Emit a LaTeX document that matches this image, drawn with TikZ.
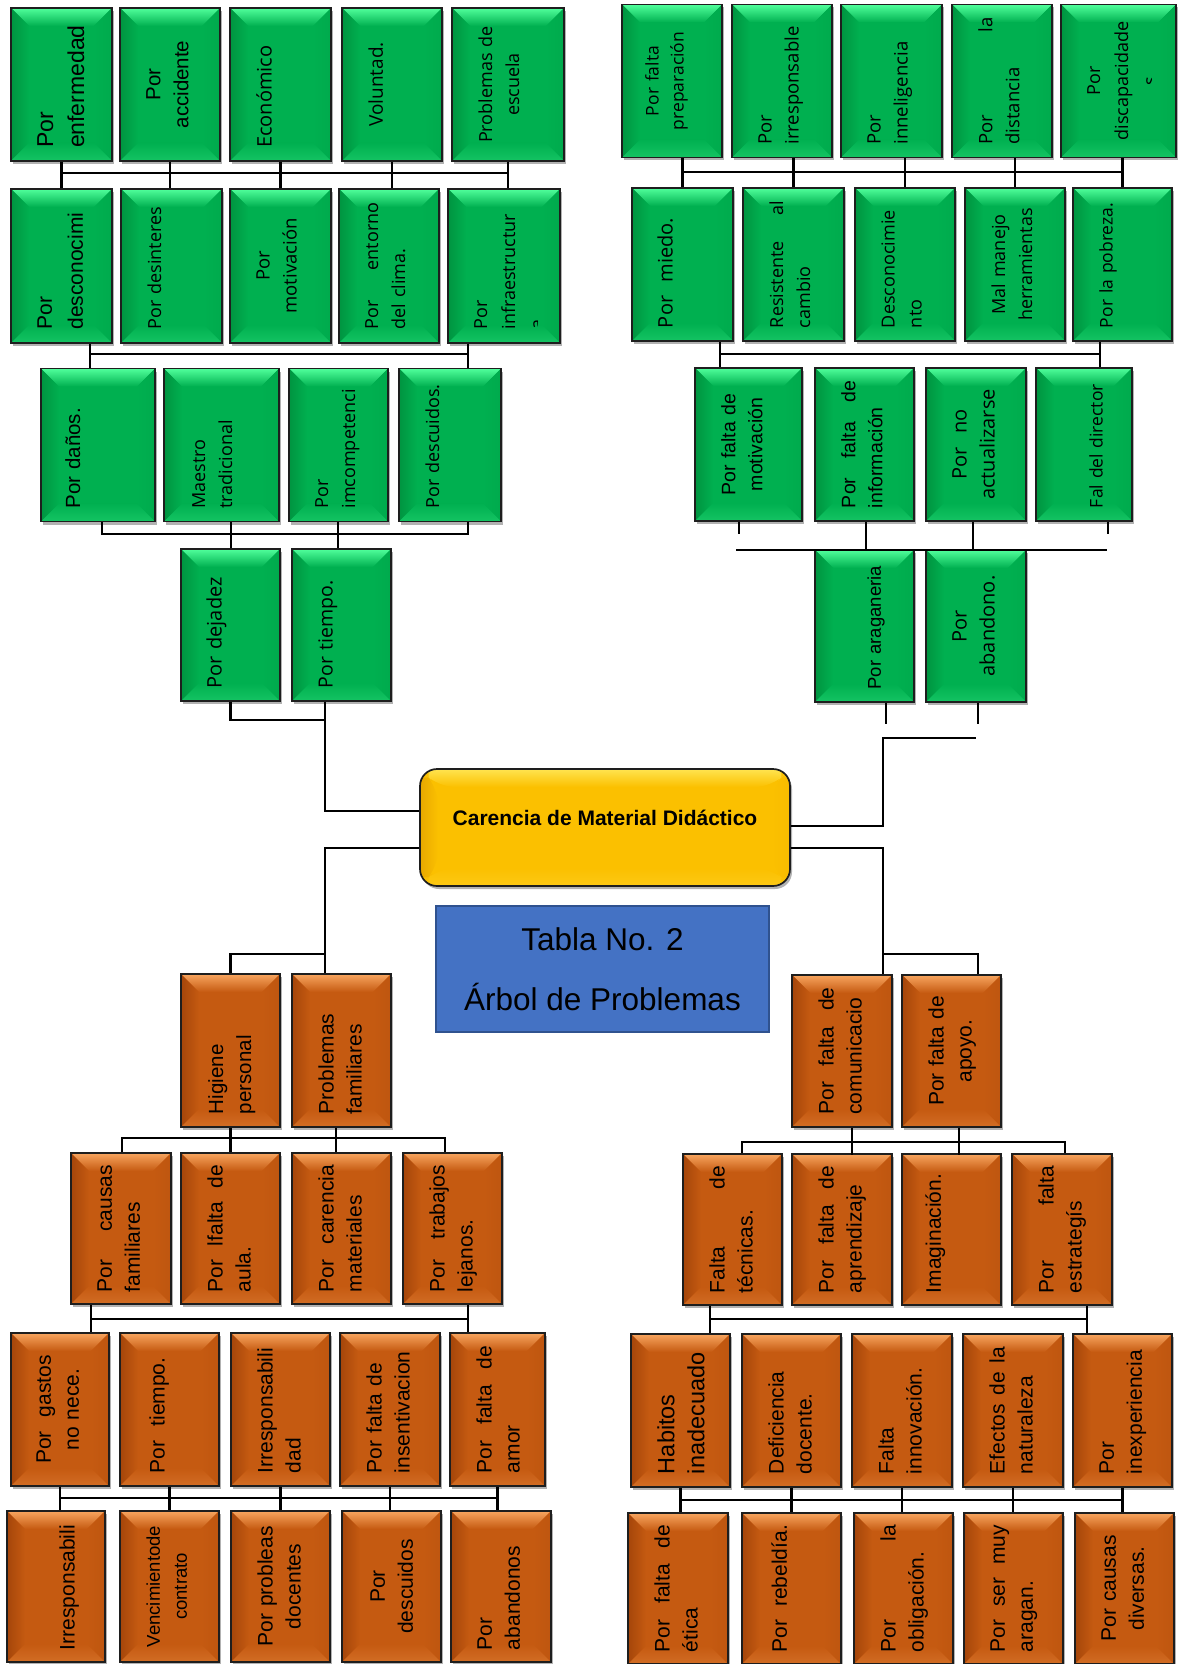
\documentclass[tikz,border=0pt]{standalone}
\usepackage{fontspec}
\setmainfont{Liberation Sans}
\newfontfamily\humfont{Open Sans}
\usetikzlibrary{shadows}
\hyphenpenalty=10000
\exhyphenpenalty=10000

\definecolor{verde}{RGB}{0,176,80}
\definecolor{verdeclaro}{RGB}{80,255,155}
\definecolor{verdeosc}{RGB}{0,148,64}
\definecolor{naranja}{RGB}{197,90,17}
\definecolor{naranjaclaro}{RGB}{248,165,95}
\definecolor{naranjaosc}{RGB}{165,70,10}
\definecolor{amarillo}{RGB}{251,192,0}
\definecolor{amarilloclaro}{RGB}{255,228,80}
\definecolor{amarilloosc}{RGB}{232,168,0}
\definecolor{azul}{RGB}{68,114,196}
\definecolor{azulosc}{RGB}{47,82,143}
\definecolor{borde}{RGB}{30,30,30}

\tikzset{
  bevel/.style n args={3}{path picture={
      \coordinate (pnw) at (path picture bounding box.north west);
      \coordinate (pne) at (path picture bounding box.north east);
      \coordinate (psw) at (path picture bounding box.south west);
      \coordinate (pse) at (path picture bounding box.south east);
      \fill[#1] (psw) rectangle (pne);
      \shade[top color=#2, bottom color=#1] (pnw) -- (pne) -- ([shift={(-18pt,-18pt)}]pne) -- ([shift={(18pt,-18pt)}]pnw) -- cycle;
      \shade[left color=#3, right color=#1] (pnw) -- ([shift={(18pt,-18pt)}]pnw) -- ([shift={(18pt,18pt)}]psw) -- (psw) -- cycle;
      \shade[left color=#1, right color=#1!80!#3] (pne) -- (pse) -- ([shift={(-18pt,18pt)}]pse) -- ([shift={(-18pt,-18pt)}]pne) -- cycle;
      \shade[top color=#1, bottom color=#1!75!#2] (psw) -- ([shift={(18pt,18pt)}]psw) -- ([shift={(-18pt,18pt)}]pse) -- (pse) -- cycle;
  }},
  caja/.style={draw=borde, line width=1.7pt, inner sep=0pt,
    drop shadow={shadow xshift=2pt, shadow yshift=-3pt, opacity=.3, fill=black}},
  gbox/.style={caja, bevel={verde}{verdeclaro}{verdeosc}},
  obox/.style={caja, bevel={naranja}{naranjaclaro}{naranjaosc}},
  root/.style={caja, rounded corners=17pt, minimum width=370pt, minimum height=117pt,
    bevel={amarillo}{amarilloclaro}{amarilloosc}},
  tabla/.style={draw=azulosc, fill=azul, line width=1.5pt, minimum width=333pt,
    minimum height=126pt, align=center, font=\fontsize{31.5}{60}\selectfont},
  rt/.style={rotate=90, anchor=north, inner sep=0pt, text width=127pt, align=left,
    font=\fontsize{21}{28}\selectfont},
  os/.style 2 args={font=\humfont\fontsize{#1}{#2}\selectfont},
  ar/.style 2 args={font=\fontsize{#1}{#2}\selectfont},
  cen/.style={align=center},
  linea/.style={line width=2.3pt, black}
}

\begin{document}
\begin{tikzpicture}[x=1pt, y=-1pt]
\fill[white] (0,0) rectangle (1179,1664);
\useasboundingbox (0,0) rectangle (1179,1664);

% causas verdes, izquierda
\foreach \n/\x/\w in {a1/61.5/101, a2/170/100, a3/280.5/101, a4/392/100, a5/508/112}
  \node[gbox, minimum width=\w pt, minimum height=153pt] (\n) at (\x,84.5) {};
\foreach \n/\x/\w in {b1/61.5/101, b2/171.5/101, b3/280.5/101, b4/389/100, b5/504/112}
  \node[gbox, minimum width=\w pt, minimum height=154pt] (\n) at (\x,266) {};
\foreach \n/\x/\w in {c1/98/114, c2/221.5/115, c3/338.5/99, c4/450/102}
  \node[gbox, minimum width=\w pt, minimum height=153pt] (\n) at (\x,445) {};
\foreach \n/\x/\w in {d1/230.5/99, d2/341.5/99}
  \node[gbox, minimum width=\w pt, minimum height=152pt] (\n) at (\x,625) {};

% causas verdes, derecha
\foreach \n/\x/\w in {e1/672/100, e2/782/100, e3/891.5/101, e4/1002/100, e5/1118.5/115}
  \node[gbox, minimum width=\w pt, minimum height=153pt] (\n) at (\x,81) {};
\foreach \n/\x/\w in {f1/682.5/101, f2/793.5/101, f3/905/100, f4/1015/100, f5/1122.5/99}
  \node[gbox, minimum width=\w pt, minimum height=153pt] (\n) at (\x,264.5) {};
\foreach \n/\x/\w in {g1/748.5/107, g2/864.5/99, g3/976/100, g4/1084/96}
  \node[gbox, minimum width=\w pt, minimum height=153pt] (\n) at (\x,444.5) {};
\foreach \n/\x/\w in {h1/864.5/99, h2/976/100}
  \node[gbox, minimum width=\w pt, minimum height=152pt] (\n) at (\x,626) {};

% efectos naranjas, izquierda
\foreach \n/\x/\w in {i1/230.5/99, i2/341.5/99}
  \node[obox, minimum width=\w pt, minimum height=153pt] (\n) at (\x,1050.5) {};
\foreach \n/\x/\w in {j1/121/100, j2/230.5/99, j3/341.5/99, j4/452.5/99}
  \node[obox, minimum width=\w pt, minimum height=151pt] (\n) at (\x,1228.5) {};
\foreach \n/\x/\w in {k1/60/98, k2/169.5/99, k3/280.5/99, k4/390/100, k5/497.5/95}
  \node[obox, minimum width=\w pt, minimum height=153pt] (\n) at (\x,1409.5) {};
\foreach \n/\x/\w in {l1/56/98, l2/169.5/99, l3/280.5/99, l4/391.5/99, l5/501/100}
  \node[obox, minimum width=\w pt, minimum height=151pt] (\n) at (\x,1586.5) {};

% efectos naranjas, derecha
\foreach \n/\x/\w in {m1/842/100, m2/951.5/99}
  \node[obox, minimum width=\w pt, minimum height=152pt] (\n) at (\x,1051) {};
\foreach \n/\x/\w in {n1/732.5/99, n2/842/100, n3/951.5/99, n4/1062/100}
  \node[obox, minimum width=\w pt, minimum height=151pt] (\n) at (\x,1229.5) {};
\foreach \n/\x/\w in {o1/680.5/99, o2/791.5/99, o3/902/100, o4/1013/100, o5/1122.5/99}
  \node[obox, minimum width=\w pt, minimum height=153pt] (\n) at (\x,1410.5) {};
\foreach \n/\x/\w in {p1/678/100, p2/791.5/99, p3/903.5/99, p4/1013.5/99, p5/1124.5/99}
  \node[obox, minimum width=\w pt, minimum height=151pt] (\n) at (\x,1588.5) {};

% problema central
\node[root] (root) at (605,827.5) {};
\node[anchor=base, font=\bfseries\fontsize{21}{25}\selectfont] (roott) at ([yshift=2.5pt]root.center) {Carencia de Material Didáctico};
\node[tabla] (tabla) at (602.5,969) {Tabla No. 2\\Árbol de Problemas};

% textos verdes
\node[rt, ar={23}{31}] (a1t) at ([xshift=27pt]a1.west) {Por\\enfermedad};
\node[rt, ar={20.5}{28}, cen] (a2t) at ([xshift=27pt]a2.west) {Por\\accidente};
\node[rt, os={20}{28}] (a3t) at ([xshift=27pt]a3.west) {Económico};
\node[rt, os={19}{27}, cen] (a4t) at ([xshift=27pt]a4.west) {Voluntad.};
\node[rt, os={18}{27}, cen] (a5t) at ([xshift=27pt]a5.west) {Problemas de\\escuela};
\node[rt, ar={21}{31}] (b1t) at ([xshift=27pt]b1.west) {Por\\desconocimi};
\node[rt, os={18}{27}] (b2t) at ([xshift=27pt]b2.west) {Por desinteres};
\node[rt, os={18.5}{27}, cen] (b3t) at ([xshift=27pt]b3.west) {Por\\motivación};
\node[rt, os={18}{27}] (b4t) at ([xshift=27pt]b4.west) {Por\hfill entorno\\del clima.};
\begin{scope}
  \clip (b5.south west) rectangle ([xshift=-23pt]b5.north east);
  \node[rt, os={18}{28}] (b5t) at ([xshift=27pt]b5.west) {Por\\infraestructur\\a};
\end{scope}
\node[rt, ar={20.5}{28}] (c1t) at ([xshift=25pt]c1.west) {Por daños.};
\node[rt, os={18}{27}] (c2t) at ([xshift=29pt]c2.west) {Maestro\\tradicional};
\node[rt, os={18}{27}] (c3t) at ([xshift=27pt]c3.west) {Por\\imcompetenci};
\node[rt, os={18}{27}] (c4t) at ([xshift=27pt]c4.west) {Por descuidos.};
\node[rt, os={20}{28}] (d1t) at ([xshift=26pt]d1.west) {Por dejadez};
\node[rt, os={19.5}{28}] (d2t) at ([xshift=27pt]d2.west) {Por tiempo.};
\node[rt, os={17.5}{25}, cen] (e1t) at ([xshift=24pt]e1.west) {Por falta\\preparación};
\node[rt, os={18.5}{27}] (e2t) at ([xshift=27pt]e2.west) {Por\\irresponsable};
\node[rt, os={18.5}{27}] (e3t) at ([xshift=27pt]e3.west) {Por\\inneligencia};
\node[rt, os={18.5}{27}] (e4t) at ([xshift=27pt]e4.west) {Por\hfill la\\distancia};
\begin{scope}
  \clip (e5.south west) rectangle ([xshift=-25pt]e5.north east);
  \node[rt, os={18}{28}, cen] (e5t) at ([xshift=27pt]e5.west) {Por\\discapacidade\\s};
\end{scope}
\node[rt, os={20}{28}] (f1t) at ([xshift=26pt]f1.west) {Por\ \ miedo.};
\node[rt, os={18}{27}] (f2t) at ([xshift=27pt]f2.west) {Resistente\hfill al\\cambio};
\node[rt, os={18}{27}] (f3t) at ([xshift=27pt]f3.west) {Desconocimie\\nto};
\node[rt, os={18}{27}, cen] (f4t) at ([xshift=27pt]f4.west) {Mal manejo\\herramientas};
\node[rt, os={17.5}{27}] (f5t) at ([xshift=27pt]f5.west) {Por la pobreza.};
\node[rt, ar={19.5}{27}, cen] (g1t) at ([xshift=27pt]g1.west) {Por falta de\\motivación};
\node[rt, ar={19.5}{27}] (g2t) at ([xshift=27pt]g2.west) {Por\hfill falta\hfill de\\información};
\node[rt, os={20}{28}, cen] (g3t) at ([xshift=27pt]g3.west) {Por\ \ no\\actualizarse};
\node[rt, os={17.5}{27}] (g4t) at ([xshift=54pt]g4.west) {Fal del director};
\node[rt, ar={18.5}{27}] (h1t) at ([xshift=53pt]h1.west) {Por araganeria};
\node[rt, os={20}{28}, cen] (h2t) at ([xshift=27pt]h2.west) {Por\\abandono.};

% textos naranjas
\node[rt, ar={20.5}{28}] (i1t) at ([xshift=28pt]i1.west) {Higiene\\personal};
\node[rt] (i2t) at ([xshift=27pt]i2.west) {Problemas\\familiares};
\node[rt] (j1t) at ([xshift=27pt]j1.west) {Por\hfill causas\\familiares};
\node[rt] (j2t) at ([xshift=27pt]j2.west) {Por\hfill lfalta\hfill de\\aula.};
\node[rt] (j3t) at ([xshift=27pt]j3.west) {Por\hfill carencia\\materiales};
\node[rt] (j4t) at ([xshift=27pt]j4.west) {Por\hfill trabajos\\lejanos.};
\node[rt, cen] (k1t) at ([xshift=26pt]k1.west) {Por\ \ gastos\\no nece.};
\node[rt] (k2t) at ([xshift=30pt]k2.west) {Por\ \ tiempo.};
\node[rt] (k3t) at ([xshift=27pt]k3.west) {Irresponsabili\\dad};
\node[rt] (k4t) at ([xshift=27pt]k4.west) {Por falta de\\insentivacion};
\node[rt] (k5t) at ([xshift=27pt]k5.west) {Por\hfill falta\hfill de\\amor};
\node[rt] (l1t) at ([xshift=53pt]l1.west) {Irresponsabili};
\node[rt, ar={18.5}{27}, cen] (l2t) at ([xshift=27pt]l2.west) {Vencimientode\\contrato};
\node[rt, cen] (l3t) at ([xshift=27pt]l3.west) {Por probleas\\docentes};
\node[rt, cen] (l4t) at ([xshift=29pt]l4.west) {Por\\descuidos};
\node[rt] (l5t) at ([xshift=27pt]l5.west) {Por\\abandonos};
\node[rt] (m1t) at ([xshift=27pt]m1.west) {Por\hfill falta\hfill de\\comunicacio};
\node[rt, cen] (m2t) at ([xshift=27pt]m2.west) {Por falta de\\apoyo.};
\node[rt] (n1t) at ([xshift=27pt]n1.west) {Falta\hfill de\\técnicas.};
\node[rt] (n2t) at ([xshift=27pt]n2.west) {Por\hfill falta\hfill de\\aprendizaje};
\node[rt] (n3t) at ([xshift=24pt]n3.west) {Imaginación.};
\node[rt] (n4t) at ([xshift=27pt]n4.west) {Por\hfill falta\\estrategís};
\node[rt, ar={23.5}{30}] (o1t) at ([xshift=27pt]o1.west) {Habitos\\inadecuado};
\node[rt] (o2t) at ([xshift=27pt]o2.west) {Deficiencia\\docente.};
\node[rt] (o3t) at ([xshift=27pt]o3.west) {Falta\\innovación.};
\node[rt] (o4t) at ([xshift=27pt]o4.west) {Efectos\hfill de\hfill la\\naturaleza};
\node[rt] (o5t) at ([xshift=27pt]o5.west) {Por\\inexperiencia};
\node[rt] (p1t) at ([xshift=27pt]p1.west) {Por\hfill falta\hfill de\\ética};
\node[rt] (p2t) at ([xshift=30pt]p2.west) {Por\hfill rebeldía.};
\node[rt] (p3t) at ([xshift=27pt]p3.west) {Por\hfill la\\obligación.};
\node[rt] (p4t) at ([xshift=27pt]p4.west) {Por\hfill ser\hfill muy\\aragan.};
\node[rt, cen] (p5t) at ([xshift=27pt]p5.west) {Por causas\\diversas.};

% conectores, arriba izquierda
\coordinate (ab) at (0,173);
\foreach \u/\v in {a1/b1, a2/b2, a3/b3, a4/b4, a5/b5}
  \draw[linea] (\u.south) -- (\u.south |- \v.north);
\draw[linea] (a1.south |- ab) -- (a5.south |- ab);
\coordinate (bc1) at (90,354);
\coordinate (bc2) at (468,354);
\draw[linea] (bc1 |- b1.south) -- (bc1 |- c1.north);
\draw[linea] (bc2 |- b5.south) -- (bc2 |- c4.north);
\draw[linea] (bc1) -- (bc2);
\coordinate (cd1) at (102,534);
\coordinate (cd2) at (231,534);
\coordinate (cd3) at (338,534);
\coordinate (cd4) at (468,534);
\draw[linea] (cd1 |- c1.south) -- (cd1) -- (cd4) -- (cd4 |- c4.south);
\draw[linea] (cd2 |- c2.south) -- (cd2 |- d1.north);
\draw[linea] (cd3 |- c3.south) -- (cd3 |- d2.north);
\coordinate (dr) at (325,720);
\coordinate (ri1) at (325,811);
\draw[linea] (d1.south) |- (dr);
\draw[linea] (dr |- d2.south) -- (ri1) -- (ri1 -| root.west);

% conectores, arriba derecha
\coordinate (ef) at (0,172);
\foreach \u/\v in {e1/f1, e2/f2, e3/f3, e4/f4, e5/f5}
  \draw[linea] (\v.north |- \u.south) -- (\v.north);
\draw[linea] (f1.north |- ef) -- (f5.north |- ef);
\coordinate (fg1) at (720,354);
\coordinate (fg2) at (1100,354);
\draw[linea] (fg1 |- f1.south) -- (fg1 |- g1.north);
\draw[linea] (fg2 |- f5.south) -- (fg2 |- g4.north);
\draw[linea] (fg1) -- (fg2);
\coordinate (gh1) at (736,550);
\coordinate (gh2) at (1107,550);
\draw[linea] (gh1) -- (gh2);
\draw[linea] ([xshift=-9.5pt]g1.south) -- ++(0,12);
\draw[linea] ([xshift=1.5pt]g2.south) -- ([xshift=1.5pt]h1.north);
\draw[linea] ([xshift=-3pt]g3.south) -- ([xshift=-3pt]h2.north);
\draw[linea] ([xshift=24pt]g4.south) -- ++(0,12);
\draw[linea] ([xshift=21.5pt]h1.south) -- ++(0,21);
\draw[linea] ([xshift=2pt]h2.south) -- ++(0,21);
\coordinate (rd1) at (883,826);
\coordinate (hb) at (883,738);
\draw[linea] (rd1 -| root.east) -- (rd1) -- (hb) -- (hb -| h2.south);

% conectores, abajo izquierda
\coordinate (ri2) at (325,848);
\coordinate (ie) at (325,954);
\draw[linea] (ri2 -| root.west) -- (ri2) -- (ri2 |- i2.north);
\draw[linea] (ie) -| (i1.north);
\coordinate (ij1) at (122,1138);
\coordinate (ij2) at (445,1138);
\draw[linea] (ij1 |- j1.north) -- (ij1) -- (ij2) -- (ij2 |- j4.north);
\draw[linea] (i1.south) -- (i1.south |- j2.north);
\draw[linea] ([xshift=-5.5pt]i2.south) -- ([xshift=-5.5pt]j3.north);
\coordinate (jk1) at (91,1319);
\coordinate (jk2) at (468,1319);
\draw[linea] (jk1 |- j1.south) -- (jk1 |- k1.north);
\draw[linea] (jk2 |- j4.south) -- (jk2 |- k5.north);
\draw[linea] (jk1) -- (jk2);
\coordinate (kl) at (0,1498);
\foreach \u/\v in {k1/l1, k2/l2, k3/l3, k4/l4, k5/l5}
  \draw[linea] (\u.south) -- (\u.south |- \v.north);
\draw[linea] (k1.south |- kl) -- (k5.south |- kl);

% conectores, abajo derecha
\coordinate (rd2) at (883,848);
\coordinate (mb) at (883,954);
\coordinate (mb2) at (978,954);
\draw[linea] (rd2 -| root.east) -- (rd2) -- (rd2 |- m1.north);
\draw[linea] (mb) -- (mb2) -- (mb2 |- m2.north);
\coordinate (mn1) at (742,1142);
\coordinate (mn2) at (1065,1142);
\draw[linea] (mn1 |- n1.north) -- (mn1) -- (mn2) -- (mn2 |- n4.north);
\draw[linea] ([xshift=10pt]m1.south) -- ++(0,27);
\draw[linea] ([xshift=7.5pt]m2.south) -- ++(0,27);
\coordinate (no1) at (710,1319);
\coordinate (no2) at (1087,1319);
\draw[linea] (no1 |- n1.south) -- (no1 |- o1.north);
\draw[linea] (no2 |- n4.south) -- (no2 |- o5.north);
\draw[linea] (no1) -- (no2);
\coordinate (op) at (0,1500);
\foreach \u/\v in {o1/p1, o2/p2, o3/p3, o4/p4, o5/p5}
  \draw[linea] (\u.south) -- (\u.south |- \v.north);
\draw[linea] (o1.south |- op) -- (o5.south |- op);
\end{tikzpicture}
\end{document}
